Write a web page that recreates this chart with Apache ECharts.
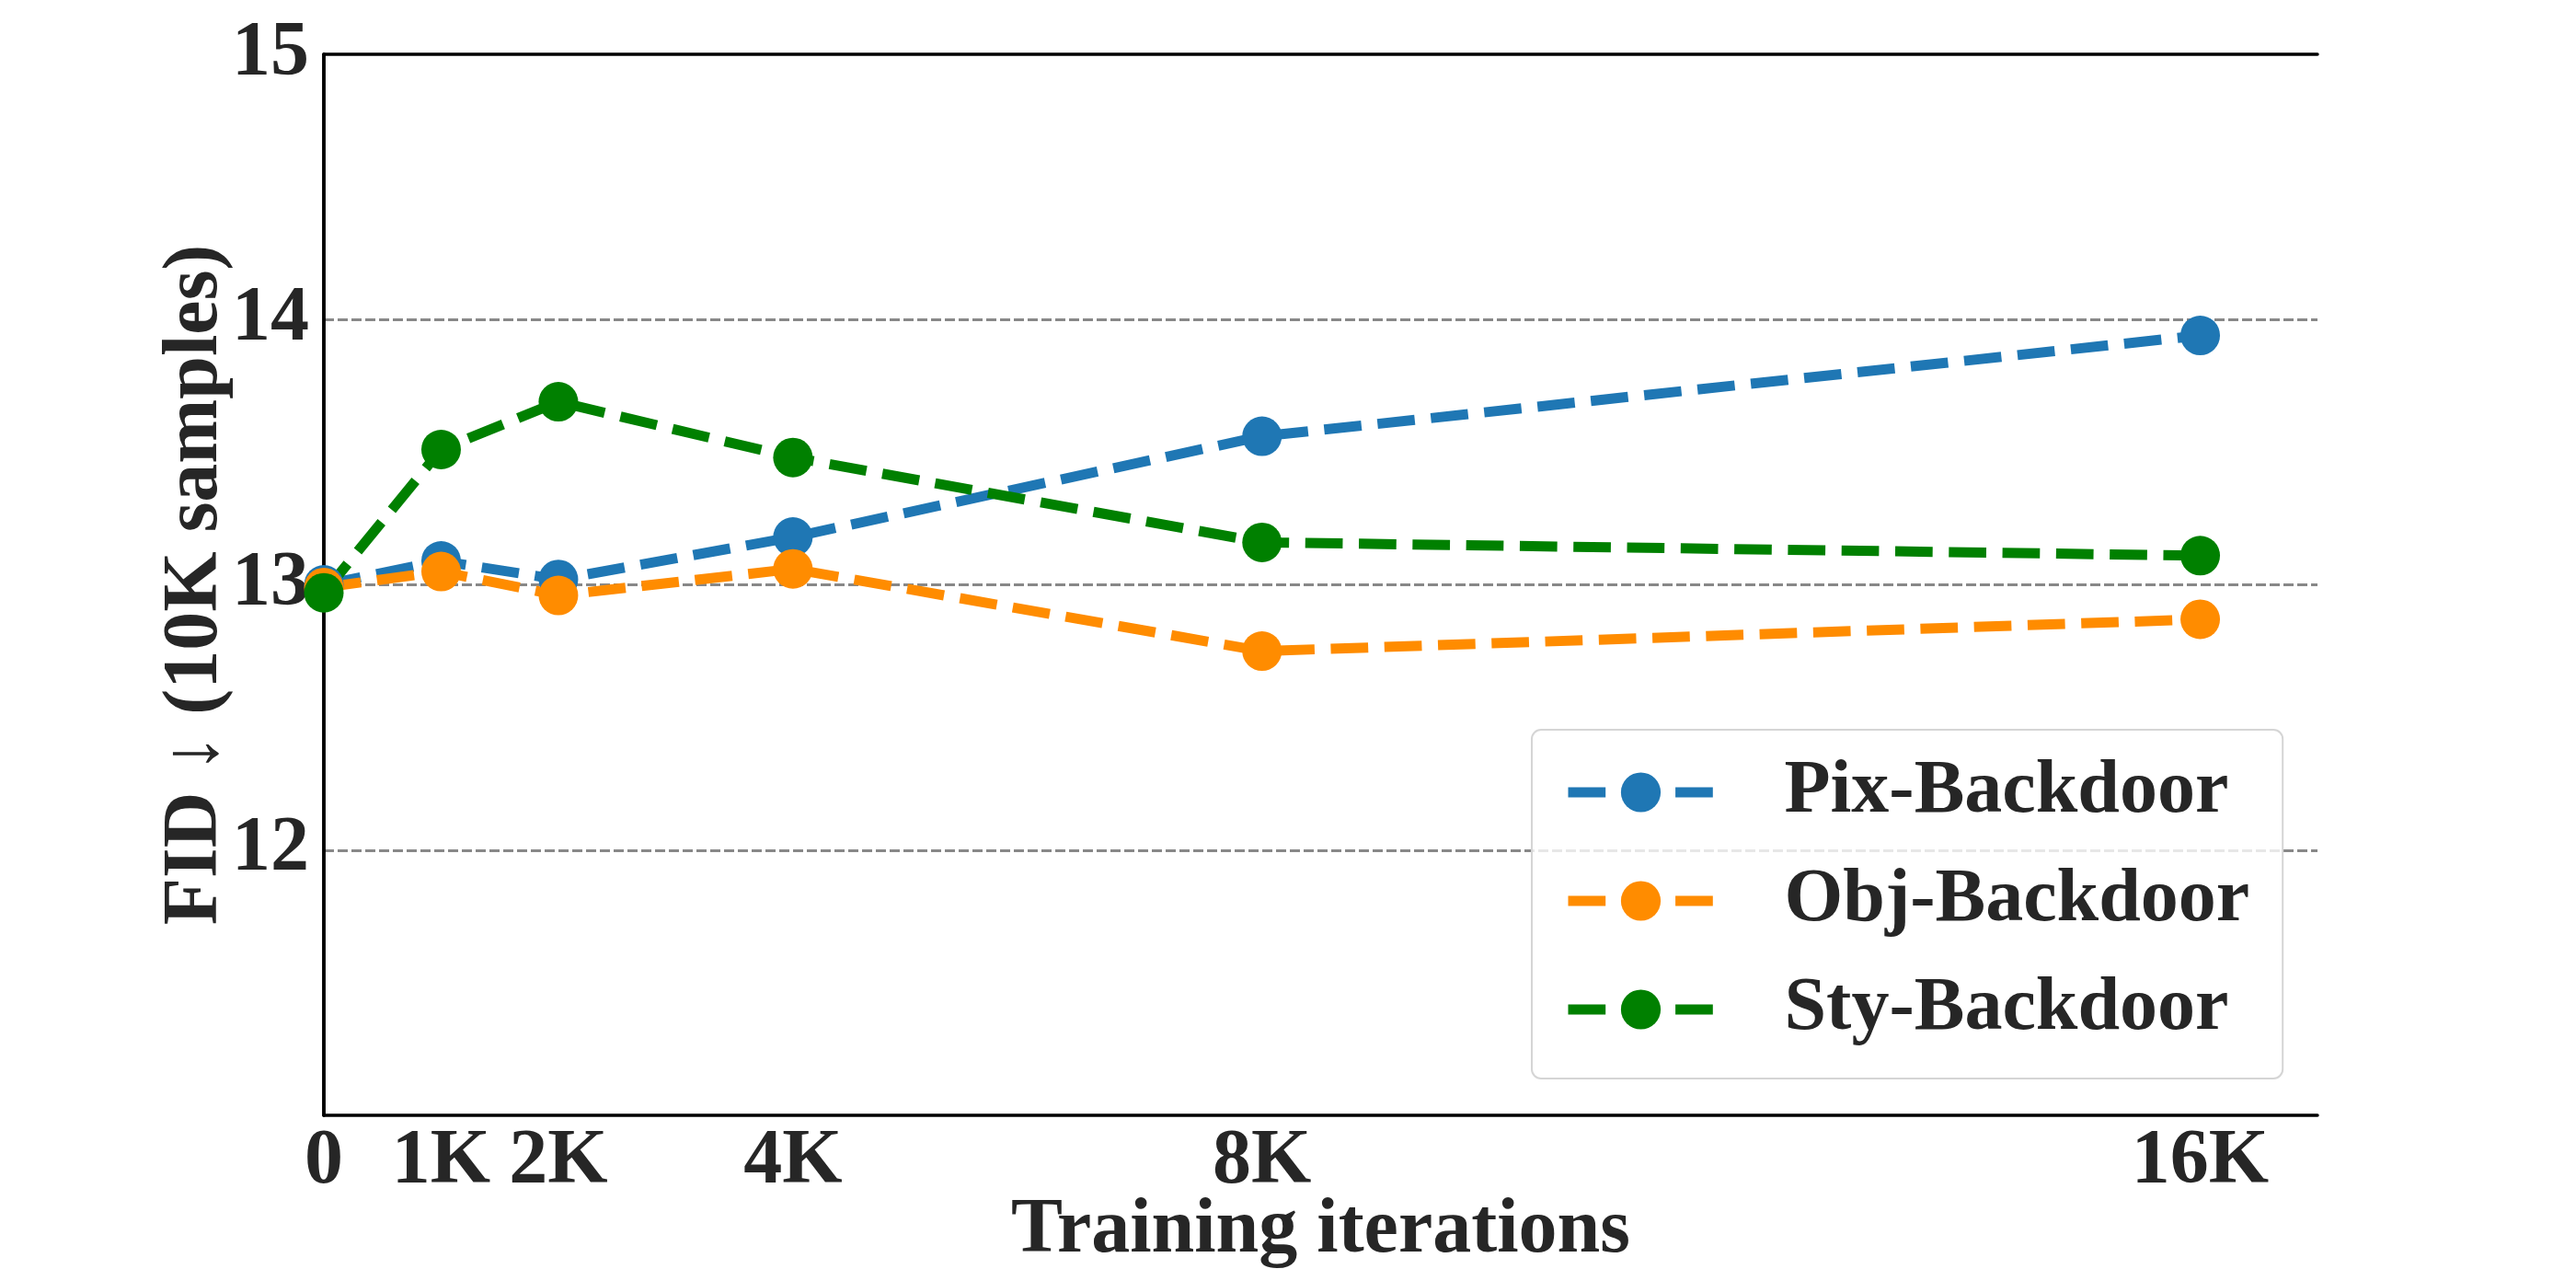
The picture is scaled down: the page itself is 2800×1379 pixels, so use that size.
<!DOCTYPE html>
<html>
<head>
<meta charset="utf-8">
<title>FID vs training iterations</title>
<script src="https://cdn.jsdelivr.net/npm/echarts@6/dist/echarts.min.js"></script>
<style>
  html, body { margin: 0; padding: 0; background: #fff; }
  #chart { width: 2800px; height: 1379px; }
</style>
</head>
<body>
<div id="chart"></div>
<script>
// training iterations in thousands
var iterations = [0, 1, 2, 4, 8, 16];
var tickValues = [0, 1, 2, 4, 8, 16];
var tickLabels = ['0', '1K', '2K', '4K', '8K', '16K'];

var seriesNames = ['Pix-Backdoor', 'Obj-Backdoor', 'Sty-Backdoor'];
var pixFid = [13.00, 13.09, 13.02, 13.18, 13.56, 13.94];
var objFid = [12.99, 13.05, 12.96, 13.06, 12.75, 12.87];
var styFid = [12.97, 13.51, 13.69, 13.48, 13.16, 13.11];
var colors = ['#1f77b4', '#ff8c00', '#008000'];

var font = '"Liberation Serif", "Times New Roman", serif';
var textColor = '#262626';
var dash = [40.7, 17.6];
var frame = { show: true, lineStyle: { color: '#000', width: 3.5 } };

function pairs(ys) {
  return iterations.map(function (x, i) { return [x, ys[i]]; });
}

function lineSeries(name, ys, color) {
  return {
    name: name,
    type: 'line',
    data: pairs(ys),
    symbol: 'circle',
    symbolSize: 43,
    color: color,
    lineStyle: { width: 11, type: dash, color: color },
    itemStyle: { color: color },
    emphasis: { disabled: true },
    animation: false
  };
}

var chart = echarts.init(document.getElementById('chart'));

chart.setOption({
  backgroundColor: '#fff',
  textStyle: { fontFamily: font, color: textColor },
  grid: {
    left: 352, top: 59, right: 281, bottom: 167,
    containLabel: false, outerBoundsMode: 'none'
  },
  xAxis: [{
    type: 'value',
    min: 0, max: 17, interval: 1,
    name: 'Training iterations',
    nameLocation: 'middle',
    nameGap: 84,
    nameMoveOverlap: false,
    nameTextStyle: { fontFamily: font, fontSize: 84, fontWeight: 'bold', color: textColor },
    axisLine: frame,
    axisTick: { show: false },
    splitLine: { show: false },
    axisLabel: {
      margin: 9,
      fontFamily: font, fontSize: 84, fontWeight: 'bold', color: textColor,
      formatter: function (v) {
        var i = tickValues.indexOf(v);
        return i >= 0 ? tickLabels[i] : '';
      }
    }
  }, {
    type: 'value', position: 'top', min: 0, max: 17,
    axisLine: frame, axisTick: { show: false }, axisLabel: { show: false }, splitLine: { show: false }
  }],
  yAxis: [{
    type: 'value',
    min: 11, max: 15, interval: 1,
    name: 'FID \u2193 (10K samples)',
    nameLocation: 'middle',
    nameGap: 97,
    nameMoveOverlap: false,
    nameTextStyle: { fontFamily: font, fontSize: 84, fontWeight: 'bold', color: textColor },
    axisLine: frame,
    axisTick: { show: false },
    axisLabel: {
      margin: 16, showMinLabel: false,
      fontFamily: font, fontSize: 84, fontWeight: 'bold', color: textColor
    },
    splitLine: {
      show: true, showMinLine: false, showMaxLine: false,
      lineStyle: { color: '#888888', width: 3, type: [11, 4] }
    }
  }, {
    type: 'value', position: 'right', min: 11, max: 15,
    axisLine: frame, axisTick: { show: false }, axisLabel: { show: false }, splitLine: { show: false }
  }],
  legend: {
    orient: 'vertical',
    left: 1665, top: 793,
    padding: [27, 36, 34, 34],
    itemWidth: 158, itemHeight: 54, itemGap: 36,
    backgroundColor: 'rgba(255,255,255,0.8)',
    borderColor: '#d5d5d5', borderWidth: 2, borderRadius: 10,
    lineStyle: { width: 11, type: dash },
    textStyle: {
      fontFamily: font, fontSize: 82, fontWeight: 'bold', color: textColor,
      padding: [0, 0, 0, 72]
    },
    data: seriesNames
  },
  series: [
    lineSeries(seriesNames[0], pixFid, colors[0]),
    lineSeries(seriesNames[1], objFid, colors[1]),
    lineSeries(seriesNames[2], styFid, colors[2])
  ]
});
</script>
</body>
</html>
